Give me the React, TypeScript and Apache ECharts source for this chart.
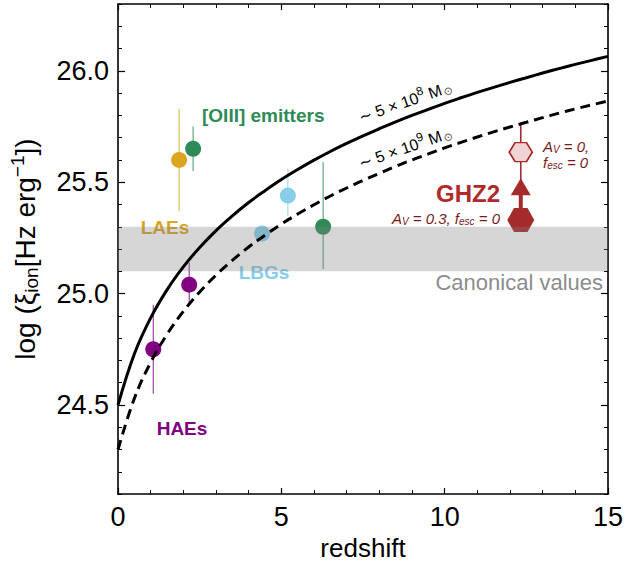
import React, { useEffect, useRef } from "react";
import * as echarts from "echarts";

// ---- data ----
const zCurve = [0, 0.5, 1, 1.5, 2, 2.5, 3, 3.5, 4, 4.5, 5, 5.5, 6, 6.5, 7, 7.5, 8, 8.5, 9, 9.5, 10, 10.5, 11, 11.5, 12, 12.5, 13, 13.5, 14, 14.5, 15];
const solidXi = [24.5, 24.729, 24.891, 25.017, 25.12, 25.207, 25.283, 25.349, 25.409, 25.462, 25.512, 25.557, 25.599, 25.638, 25.674, 25.708, 25.74, 25.771, 25.8, 25.827, 25.854, 25.879, 25.903, 25.926, 25.948, 25.969, 25.99, 26.01, 26.029, 26.047, 26.065];
const dashedXi = [24.3, 24.529, 24.691, 24.817, 24.92, 25.007, 25.083, 25.149, 25.209, 25.262, 25.312, 25.357, 25.399, 25.438, 25.474, 25.508, 25.54, 25.571, 25.6, 25.627, 25.654, 25.679, 25.703, 25.726, 25.748, 25.769, 25.79, 25.81, 25.829, 25.847, 25.865];

const haeZ = [1.08, 2.18];
const haeXi = [24.75, 25.04];
const haeLo = [0.2, 0.08];
const haeHi = [0.2, 0.1];

const laeZ = [1.87];
const laeXi = [25.6];
const laeLo = [0.23];
const laeHi = [0.23];

const oiiiZ = [2.3, 6.28];
const oiiiXi = [25.65, 25.3];
const oiiiLo = [0.1, 0.19];
const oiiiHi = [0.1, 0.29];

const lbgZ = [5.2, 4.41];
const lbgXi = [25.44, 25.27];
const lbgLo = [0.09, 0];
const lbgHi = [0.12, 0];

const ghz2Z = [12.33];
const ghz2Fid = [25.33]; // A_V = 0.3, f_esc = 0
const ghz2Lim = [25.48]; // lower-limit arrow head
const ghz2Av0 = [25.635]; // A_V = 0, f_esc = 0
const ghz2Top = [25.76];

const canonical = [25.1, 25.3];

const yMajor = [24.5, 25.0, 25.5, 26.0];
const yMinor = [24.1, 24.2, 24.3, 24.4, 24.6, 24.7, 24.8, 24.9, 25.1, 25.2, 25.3, 25.4, 25.6, 25.7, 25.8, 25.9, 26.1, 26.2, 26.3];

const FONT = '"Liberation Sans", Arial, Helvetica, sans-serif';
const HEX = "path://M0,50 L25,6.7 L75,6.7 L100,50 L75,93.3 L25,93.3 Z";

const C_HAE = "#800080";
const C_LAE = "#DAA520";
const C_OIII = "#2E8B57";
const C_LBG = "#87CEEB";
const C_GHZ = "#a52a2a";
const C_GHZ_TXT = "#7a1c1c";

function zip(a: number[], b: number[]) {
  return a.map((v, i) => [v, b[i]]);
}

function errSeries(z: number[], xi: number[], lo: number[], hi: number[], color: string, width = 1.2, opacity = 0.75) {
  return {
    type: "custom",
    z: 1,
    data: z.map((v, i) => [v, xi[i], lo[i], hi[i]]),
    renderItem: (params: any, api: any) => {
      const x = api.value(0);
      const y = api.value(1);
      const p1 = api.coord([x, y - api.value(2)]);
      const p2 = api.coord([x, y + api.value(3)]);
      return {
        type: "line",
        shape: { x1: p1[0], y1: p1[1], x2: p2[0], y2: p2[1] },
        style: { stroke: color, lineWidth: width, opacity },
      };
    },
  };
}

function scatter(z: number[], xi: number[], color: string) {
  return {
    type: "scatter",
    z: 2,
    data: zip(z, xi),
    symbol: "circle",
    symbolSize: 16,
    itemStyle: { color, opacity: 1 },
  };
}

const subStyle = { fontSize: 10, fontStyle: "italic", fill: C_GHZ_TXT, fontFamily: FONT, padding: [6, 0, 0, 0] };

function massLabel(x: number, y: number, deg: number, exp: string) {
  return {
    type: "text",
    x,
    y,
    rotation: (deg * Math.PI) / 180,
    style: {
      text: "∼ 5 × 10{p|" + exp + "} M{b|⊙}",
      fill: "#000",
      fontSize: 16,
      fontFamily: FONT,
      align: "center",
      verticalAlign: "middle",
      rich: {
        p: { fontSize: 12, fill: "#000", fontFamily: FONT, padding: [0, 0, 11, 0] },
        b: { fontSize: 11, fill: "#555", fontFamily: FONT, padding: [7, 0, 0, 1] },
      },
    },
  };
}

export default function App() {
  const ref = useRef<HTMLDivElement>(null);
  useEffect(() => {
    if (!ref.current) return;
    const chart = echarts.init(ref.current, null, { renderer: "svg" });
    const axisLine = { show: true, lineStyle: { color: "#000", width: 1.6 } };
    const tickStyle = { color: "#000", width: 1.2 };
    const option: any = {
      animation: false,
      backgroundColor: "#fff",
      textStyle: { fontFamily: FONT },
      grid: { left: 117, top: 4, width: 493, height: 492, containLabel: false },
      xAxis: [
        {
          type: "value",
          min: 0,
          max: 15,
          interval: 5,
          position: "bottom",
          axisLine,
          axisTick: { inside: true, length: 6, lineStyle: tickStyle },
          minorTick: { show: true, splitNumber: 5, length: 4, lineStyle: { color: "#000", width: 1 } },
          splitLine: { show: false },
          axisLabel: { fontSize: 27, color: "#000", margin: 9, fontFamily: FONT },
          name: "redshift",
          nameLocation: "middle",
          nameGap: 40,
          nameTextStyle: { fontSize: 26, color: "#000", fontFamily: FONT },
        },
        {
          type: "value",
          min: 0,
          max: 15,
          interval: 5,
          position: "top",
          axisLine,
          axisTick: { inside: true, length: 6, lineStyle: tickStyle },
          minorTick: { show: true, splitNumber: 5, length: 4, lineStyle: { color: "#000", width: 1 } },
          splitLine: { show: false },
          axisLabel: { show: false },
        },
      ],
      yAxis: [
        {
          type: "value",
          min: 24.1,
          max: 26.3,
          position: "left",
          axisLine,
          axisTick: { inside: true, length: 7, customValues: yMajor, lineStyle: tickStyle },
          splitLine: { show: false },
          axisLabel: {
            customValues: yMajor,
            fontSize: 27,
            color: "#000",
            margin: 9,
            fontFamily: FONT,
            formatter: (v: number) => v.toFixed(1),
          },
          name: "log (ξ{sub|ion}[Hz erg{sup|−1}])",
          nameLocation: "middle",
          nameGap: 76,
          nameTextStyle: {
            fontSize: 28,
            color: "#000",
            fontFamily: FONT,
            rich: {
              sub: { fontSize: 19, color: "#000", fontFamily: FONT, padding: [13, 0, 0, 0] },
              sup: { fontSize: 19, color: "#000", fontFamily: FONT, padding: [0, 0, 15, 0] },
            },
          },
        },
        {
          type: "value",
          min: 24.1,
          max: 26.3,
          position: "left",
          axisLine: { show: false },
          axisTick: { inside: true, length: 4, customValues: yMinor, lineStyle: { color: "#000", width: 1 } },
          splitLine: { show: false },
          axisLabel: { show: false },
        },
        {
          type: "value",
          min: 24.1,
          max: 26.3,
          position: "right",
          axisLine,
          axisTick: { inside: true, length: 7, customValues: yMajor, lineStyle: tickStyle },
          splitLine: { show: false },
          axisLabel: { show: false },
        },
        {
          type: "value",
          min: 24.1,
          max: 26.3,
          position: "right",
          axisLine: { show: false },
          axisTick: { inside: true, length: 4, customValues: yMinor, lineStyle: { color: "#000", width: 1 } },
          splitLine: { show: false },
          axisLabel: { show: false },
        },
      ],
      series: [
        errSeries(haeZ, haeXi, haeLo, haeHi, C_HAE),
        errSeries(laeZ, laeXi, laeLo, laeHi, C_LAE),
        errSeries(oiiiZ, oiiiXi, oiiiLo, oiiiHi, C_OIII),
        errSeries(lbgZ, lbgXi, lbgLo, lbgHi, C_LBG),
        scatter(haeZ, haeXi, C_HAE),
        scatter(laeZ, laeXi, C_LAE),
        scatter(oiiiZ, oiiiXi, C_OIII),
        scatter(lbgZ, lbgXi, C_LBG),
        // GHZ2 thin line up to upper error
        errSeries(ghz2Z, ghz2Lim, [0], [ghz2Top[0] - ghz2Lim[0]], C_GHZ, 1.6, 1),
        // GHZ2 thick line from fiducial to arrow
        errSeries(ghz2Z, ghz2Fid, [0], [ghz2Lim[0] - ghz2Fid[0]], C_GHZ, 4, 1),
        {
          type: "scatter",
          z: 2,
          data: zip(ghz2Z, ghz2Fid),
          symbol: HEX,
          symbolSize: [27, 24],
          itemStyle: { color: C_GHZ, opacity: 1 },
        },
        {
          type: "scatter",
          z: 2,
          data: zip(ghz2Z, ghz2Lim),
          symbol: "triangle",
          symbolSize: [20, 17],
          itemStyle: { color: C_GHZ, opacity: 1 },
        },
        {
          type: "scatter",
          z: 2,
          data: zip(ghz2Z, ghz2Av0),
          symbol: HEX,
          symbolSize: [23, 19],
          itemStyle: { color: "#f0d4d4", borderColor: C_GHZ, borderWidth: 1.6, opacity: 1 },
        },
        // canonical band (semi-transparent, drawn over markers)
        {
          type: "custom",
          z: 3,
          silent: true,
          data: [[0, canonical[0], canonical[1]]],
          renderItem: (params: any, api: any) => {
            const cs = params.coordSys;
            const yTop = api.coord([0, api.value(2)])[1];
            const yBot = api.coord([0, api.value(1)])[1];
            return {
              type: "rect",
              shape: { x: cs.x, y: yTop, width: cs.width, height: yBot - yTop },
              style: { fill: "rgba(128,128,128,0.32)" },
            };
          },
        },
        {
          type: "line",
          z: 4,
          data: zip(zCurve, solidXi),
          smooth: 0.4,
          showSymbol: false,
          lineStyle: { color: "#000", width: 3 },
        },
        {
          type: "line",
          z: 4,
          data: zip(zCurve, dashedXi),
          smooth: 0.4,
          showSymbol: false,
          lineStyle: { color: "#000", width: 3, type: [10, 6] },
        },
      ],
      graphic: [
        { type: "text", x: 202, y: 115, style: { text: "[OIII] emitters", fill: C_OIII, fontSize: 19, fontWeight: "bold", fontFamily: FONT, align: "left", verticalAlign: "middle" } },
        { type: "text", x: 165, y: 227, style: { text: "LAEs", fill: C_LAE, fontSize: 19, fontWeight: "bold", fontFamily: FONT, align: "center", verticalAlign: "middle" } },
        { type: "text", x: 264, y: 272, style: { text: "LBGs", fill: C_LBG, fontSize: 19, fontWeight: "bold", fontFamily: FONT, align: "center", verticalAlign: "middle" } },
        { type: "text", x: 182, y: 428, style: { text: "HAEs", fill: C_HAE, fontSize: 19, fontWeight: "bold", fontFamily: FONT, align: "center", verticalAlign: "middle" } },
        { type: "text", x: 603, y: 282, style: { text: "Canonical values", fill: "#8c8c8c", fontSize: 22, fontFamily: FONT, align: "right", verticalAlign: "middle" } },
        { type: "text", x: 468, y: 193, style: { text: "GHZ2", fill: "#b02a2a", fontSize: 24, fontWeight: "bold", fontFamily: FONT, align: "center", verticalAlign: "middle" } },
        {
          type: "text",
          x: 500,
          y: 218,
          style: {
            text: "A{s|V} = 0.3, f{s|esc} = 0",
            fill: C_GHZ_TXT,
            fontSize: 15,
            fontStyle: "italic",
            fontFamily: FONT,
            align: "right",
            verticalAlign: "middle",
            rich: { s: subStyle },
          },
        },
        {
          type: "text",
          x: 543,
          y: 154,
          style: {
            text: "A{s|V} = 0,\nf{s|esc} = 0",
            fill: C_GHZ_TXT,
            fontSize: 15,
            fontStyle: "italic",
            fontFamily: FONT,
            lineHeight: 16,
            align: "left",
            verticalAlign: "middle",
            rich: { s: subStyle },
          },
        },
        massLabel(405, 102, 19, "8"),
        massLabel(405, 148, 19, "9"),
      ],
    };
    chart.setOption(option);
    return () => chart.dispose();
  }, []);
  return (
    <div
      ref={ref}
      style={{ position: "fixed", left: 0, top: 0, width: 626, height: 566, background: "#fff" }}
    />
  );
}
